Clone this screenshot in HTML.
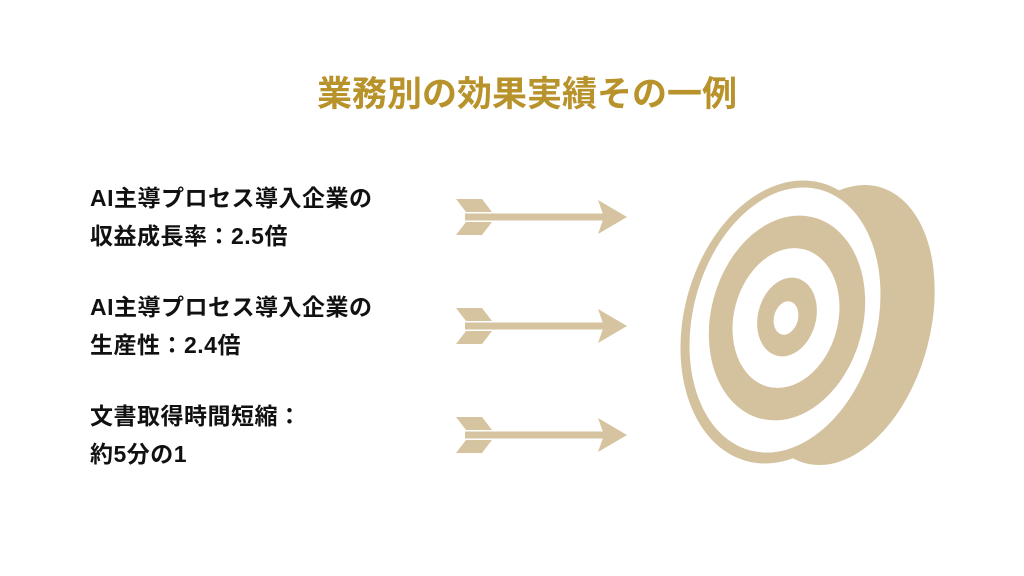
<!DOCTYPE html>
<html><head><meta charset="utf-8"><style>
body{margin:0;width:1024px;height:576px;background:#fff;position:relative;overflow:hidden;font-family:"Liberation Sans","Noto Sans CJK JP",sans-serif;}
.t{position:absolute;left:0;width:1054px;text-align:center;top:66px;font-size:35px;font-weight:bold;color:#b8922a;}
.b{position:absolute;left:90px;font-size:23px;font-weight:bold;color:#111;line-height:38px;letter-spacing:0.5px;}
</style></head><body>
<div class="t">業務別の効果実績その一例</div>
<div class="b" style="top:179px">AI主導プロセス導入企業の<br>収益成長率：2.5倍</div>
<div class="b" style="top:288px">AI主導プロセス導入企業の<br>生産性：2.4倍</div>
<div class="b" style="top:397px">文書取得時間短縮：<br>約5分の1</div>
<svg width="1024" height="576" style="position:absolute;left:0;top:0">
<defs><g id="ar" fill="#d6c3a0">
<polygon points="456,-18 482,-18 492,-5 466,-5"/>
<polygon points="456,18 482,18 492,5 466,5"/>
<rect x="465" y="-3.5" width="140" height="7"/>
<polygon points="598,-17 627,0 598,17 604,0"/>
</g></defs>
<use href="#ar" y="217"/><use href="#ar" y="326"/><use href="#ar" y="435"/>
<g fill="#d4c29e">
<ellipse cx="842" cy="325" rx="88" ry="143" transform="rotate(15 842 325)"/>
<ellipse cx="784" cy="322" rx="100" ry="144" transform="rotate(15 784 322)"/>
</g>
<ellipse cx="785" cy="320" rx="92" ry="135" transform="rotate(15 785 320)" fill="#fff"/>
<ellipse cx="787" cy="318" rx="76" ry="104" transform="rotate(15 787 318)" fill="#d4c29e"/>
<ellipse cx="786" cy="318" rx="52" ry="71" transform="rotate(15 786 318)" fill="#fff"/>
<ellipse cx="787" cy="317" rx="29" ry="40" transform="rotate(15 787 317)" fill="#d4c29e"/>
<ellipse cx="786" cy="318" rx="12" ry="17" transform="rotate(15 786 318)" fill="#fff"/>
</svg>
</body></html>
